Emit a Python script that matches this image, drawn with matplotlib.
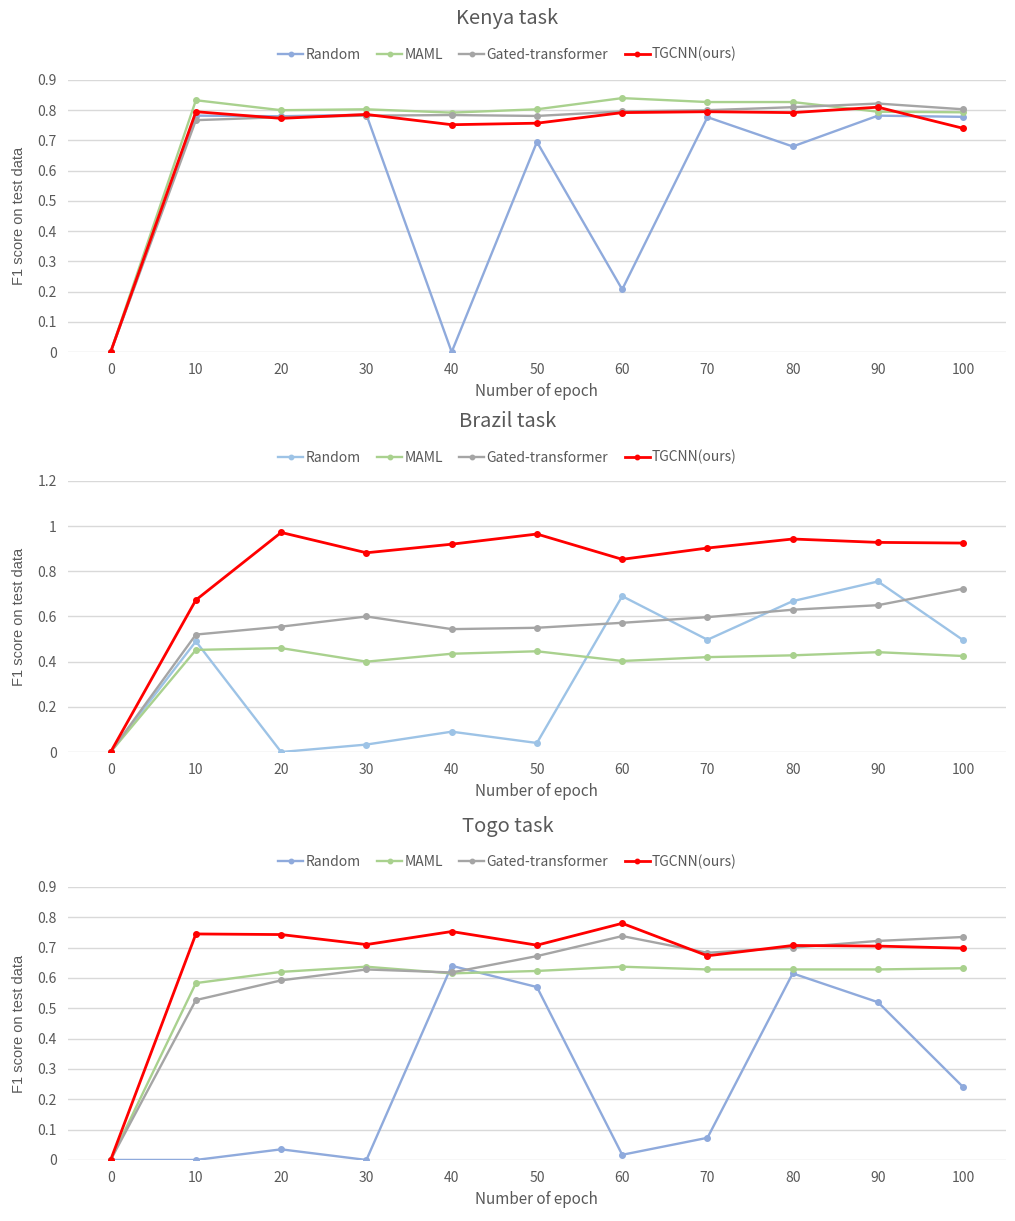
import matplotlib.pyplot as plt

plt.rcParams['font.family'] = ['Noto Sans CJK SC', 'DejaVu Sans']

epochs = [0, 10, 20, 30, 40, 50, 60, 70, 80, 90, 100]
methods = ["Random", "MAML", "Gated-transformer", "TGCNN(ours)"]

kenya_random = [0, 0.782, 0.780, 0.785, 0, 0.695, 0.207, 0.777, 0.680, 0.782, 0.778]
kenya_maml = [0, 0.833, 0.800, 0.803, 0.792, 0.803, 0.840, 0.827, 0.827, 0.795, 0.793]
kenya_gated = [0, 0.767, 0.777, 0.782, 0.784, 0.781, 0.796, 0.800, 0.810, 0.822, 0.803]
kenya_tgcnn = [0, 0.795, 0.773, 0.786, 0.752, 0.757, 0.792, 0.795, 0.792, 0.810, 0.740]

brazil_random = [0, 0.490, 0, 0.033, 0.090, 0.040, 0.690, 0.497, 0.668, 0.755, 0.495]
brazil_maml = [0, 0.452, 0.460, 0.400, 0.435, 0.446, 0.403, 0.420, 0.428, 0.442, 0.425]
brazil_gated = [0, 0.520, 0.555, 0.600, 0.544, 0.550, 0.572, 0.597, 0.630, 0.650, 0.723]
brazil_tgcnn = [0, 0.673, 0.972, 0.882, 0.920, 0.965, 0.853, 0.903, 0.943, 0.928, 0.925]

togo_random = [0, 0, 0.035, 0, 0.640, 0.570, 0.017, 0.073, 0.615, 0.520, 0.240]
togo_maml = [0, 0.583, 0.620, 0.637, 0.615, 0.623, 0.637, 0.628, 0.628, 0.628, 0.632]
togo_gated = [0, 0.527, 0.592, 0.628, 0.618, 0.672, 0.738, 0.683, 0.700, 0.722, 0.735]
togo_tgcnn = [0, 0.745, 0.743, 0.710, 0.753, 0.708, 0.780, 0.673, 0.707, 0.705, 0.698]

panels = [
    ("Kenya task", [kenya_random, kenya_maml, kenya_gated, kenya_tgcnn],
     "#8FAADC", 0.9, 0.1, [0.067, 0.7117, 0.924, 0.2228], 0.985, 0.9555),
    ("Brazil task", [brazil_random, brazil_maml, brazil_gated, brazil_tgcnn],
     "#9DC3E6", 1.2, 0.2, [0.067, 0.3841, 0.924, 0.2220], 0.655, 0.6255),
    ("Togo task", [togo_random, togo_maml, togo_gated, togo_tgcnn],
     "#8FAADC", 0.9, 0.1, [0.067, 0.0500, 0.924, 0.2236], 0.3235, 0.294),
]

text_color = "#595959"
fig = plt.figure(figsize=(10.15, 12.21), dpi=100)

for title, series, random_color, ymax, ystep, rect, title_y, legend_y in panels:
    ax = fig.add_axes(rect)
    colors = [random_color, "#A9D18E", "#A5A5A5", "#FF0000"]
    xs = list(range(len(epochs)))
    for name, vals, c in zip(methods, series, colors):
        lw = 2.0 if name == "TGCNN(ours)" else 1.7
        ax.plot(xs, vals, color=c, lw=lw, marker="o", markersize=4, label=name)
    ax.set_xlim(-0.5, len(epochs) - 0.5)
    ax.set_ylim(0, ymax)
    nticks = int(round(ymax / ystep)) + 1
    yt = [round(i * ystep, 1) for i in range(nticks)]
    ax.set_yticks(yt)
    ax.set_yticklabels([("%g" % v) for v in yt])
    ax.set_xticks(xs)
    ax.set_xticklabels([str(e) for e in epochs])
    ax.grid(axis="y", color="#D9D9D9", lw=1)
    ax.set_axisbelow(True)
    for s in ax.spines.values():
        s.set_visible(False)
    ax.tick_params(length=0, colors=text_color, labelsize=10, pad=8)
    ax.set_xlabel("Number of epoch", color=text_color, fontsize=11, labelpad=4)
    ax.set_ylabel("F1 score on test data", color=text_color, fontsize=10.5,
                  family="Liberation Sans", labelpad=8)
    fig.text(0.5, title_y, title, ha="center", va="center", fontsize=14.5, color=text_color)
    fig.legend(*ax.get_legend_handles_labels(), loc="center", bbox_to_anchor=(0.5, legend_y),
               ncol=4, frameon=False, fontsize=10, labelcolor=text_color, markerscale=0.8,
               handlelength=1.8, handletextpad=0.15, columnspacing=1.2)

fig.savefig("out.png", dpi=100)
